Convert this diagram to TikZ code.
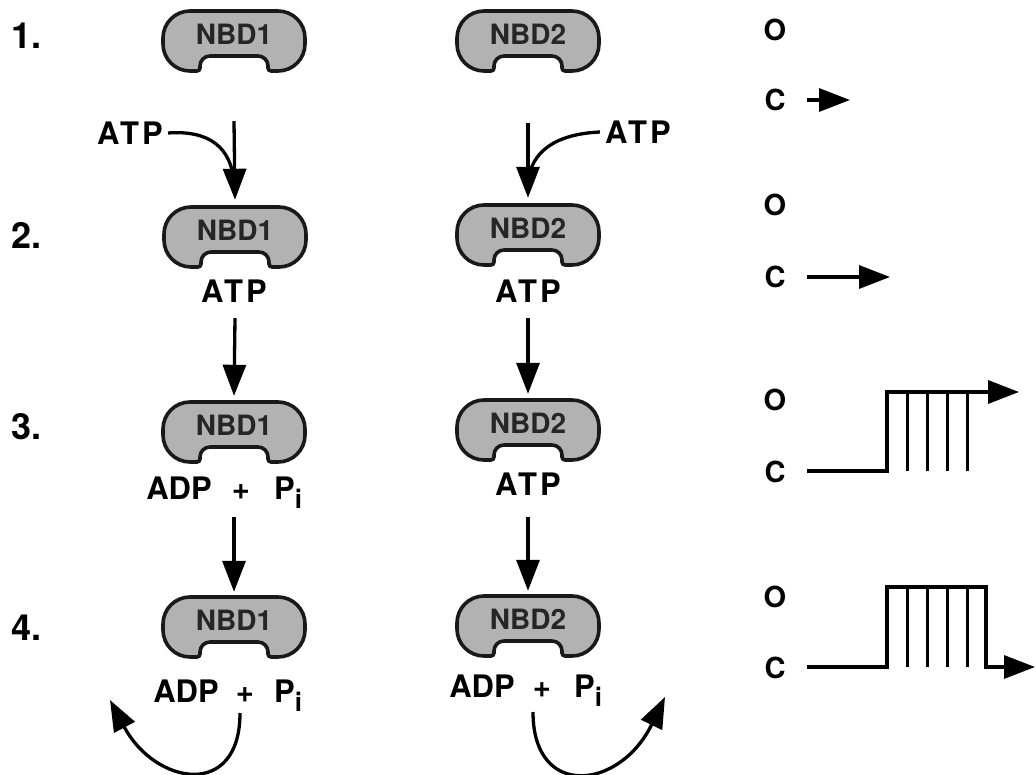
\documentclass[tikz,border=0pt]{standalone}
\usepackage{fontspec}
\setmainfont{TeX Gyre Heros}
\newfontfamily\spacedfont[LetterSpace=10]{TeX Gyre Heros}
\usetikzlibrary{arrows.meta,calc}
\newcommand\nbdshape[1]{%
  \draw[shp, shift={(#1.center)}] (0,-30) [rounded corners=27pt] -- (71,-30) -- (71,30)
    [rounded corners=3pt] -- (34,30) [rounded corners=10pt] -- (34,15) -- (-34,15)
    [rounded corners=3pt] -- (-34,30) [rounded corners=27pt] -- (-71,30) -- (-71,-30) -- cycle;}
\newcommand\nbdtxt[1]{\raisebox{7pt}[\height][\depth]{#1}}
\newcommand\Psub{P\raisebox{-9pt}{\fontsize{26}{26}\selectfont i}}
\begin{document}
\begin{tikzpicture}[x=1pt,y=-1pt,
  nbd/.style={rectangle, minimum width=142pt, minimum height=60pt, inner sep=0pt,
    font=\fontsize{28}{28}\selectfont\bfseries, text=black!85},
  lbl/.style={font=\fontsize{31}{31}\selectfont\bfseries, inner sep=0pt},
  atp/.style={font=\fontsize{31}{31}\selectfont\spacedfont\bfseries, inner sep=0pt},
  num/.style={font=\fontsize{36}{36}\selectfont\bfseries, inner sep=0pt, anchor=west},
  st/.style={font=\fontsize{29}{29}\selectfont\bfseries, inner sep=0pt},
  shp/.style={line width=3.6pt, fill=black!30, draw=black!90},
  arr/.style={line width=3.3pt, line join=miter, -{Triangle[length=31pt,width=23pt]}},
  ln/.style={line width=3.3pt},
  tick/.style={line width=3pt}
]
\useasboundingbox (0,0) rectangle (1036,775);

% NBD nodes
\node[nbd] (a1) at (234,41)  {\nbdtxt{NBD1}};
\node[nbd] (b1) at (528,41)  {\nbdtxt{NBD2}};
\node[nbd] (a2) at (235,237) {\nbdtxt{NBD1}};
\node[nbd] (b2) at (528,235) {\nbdtxt{NBD2}};
\node[nbd] (a3) at (234,432) {\nbdtxt{NBD1}};
\node[nbd] (b3) at (528,430) {\nbdtxt{NBD2}};
\node[nbd] (a4) at (234,627) {\nbdtxt{NBD1}};
\node[nbd] (b4) at (528,626) {\nbdtxt{NBD2}};
\foreach \n in {a1,b1,a2,b2,a3,b3,a4,b4}{\nbdshape{\n}}
\node[nbd] at (a1) {\nbdtxt{NBD1}};
\node[nbd] at (b1) {\nbdtxt{NBD2}};
\node[nbd] at (a2) {\nbdtxt{NBD1}};
\node[nbd] at (b2) {\nbdtxt{NBD2}};
\node[nbd] at (a3) {\nbdtxt{NBD1}};
\node[nbd] at (b3) {\nbdtxt{NBD2}};
\node[nbd] at (a4) {\nbdtxt{NBD1}};
\node[nbd] at (b4) {\nbdtxt{NBD2}};

% row numbers
\node[num] (n1) at (11,36)  {1.};
\node[num] (n2) at (11,235) {2.};
\node[num] (n3) at (11,427) {3.};
\node[num] (n4) at (11,628) {4.};

% ATP labels
\node[atp] (atpL) at (130,133) {ATP};
\node[atp] (atpR) at (638,132) {ATP};
\node[atp, anchor=base] (t2a) at (234,303) {ATP};
\node[atp, anchor=base] (t2b) at (528,303) {ATP};
\node[atp, anchor=base] (t3b) at (528,495) {ATP};

% ADP + Pi labels
\node[lbl, anchor=base] (adp3) at (179,499) {ADP};
\node[lbl, anchor=base] (pl3)  at (241,499) {+};
\node[lbl, anchor=base west] (pi3) at (274,499) {\Psub};
\node[lbl, anchor=base] (adp4a) at (186,702) {ADP};
\node[lbl, anchor=base] (pl4a)  at (245,702) {+};
\node[lbl, anchor=base west] (pi4a) at (274,702) {\Psub};
\node[lbl, anchor=base] (adp4b) at (482,697) {ADP};
\node[lbl, anchor=base] (pl4b)  at (542,697) {+};
\node[lbl, anchor=base west] (pi4b) at (574,697) {\Psub};

% ATP binding curves
\draw[ln] ([xshift=5pt]atpL.east) .. controls (210,130) and (231,148) .. (234,182);
\draw[ln] ([xshift=-5pt]atpR.west) .. controls (555,134) and (531,152) .. (528,182);

% vertical arrows
\draw[arr] ([yshift=-50pt]a1.south) -- ([yshift=7pt]a2.north);
\draw[arr] ([yshift=-52pt]b1.south) -- ([yshift=7pt]b2.north);
\draw[arr] ([yshift=-51pt]a2.south) -- ([yshift=6pt]a3.north);
\draw[arr] ([yshift=-53pt]b2.south) -- ([yshift=6pt]b3.north);
\draw[arr] ([yshift=-55pt]a3.south) -- ([yshift=5pt]a4.north);
\draw[arr] ([yshift=-57pt]b3.south) -- ([yshift=5pt]b4.north);

% release arrows
\coordinate (rl0) at (240,713);
\coordinate (rl1) at (110,700);
\coordinate (rr0) at (533,712);
\coordinate (rr1) at (665,697);
\draw[arr] (rl0) .. controls (240,800) and (155,785) .. (rl1);
\draw[arr] (rr0) .. controls (533,800) and (620,790) .. (rr1);

% open/closed labels
\node[st] (o1) at (775,30)  {O};
\node[st] (c1) at (775,100) {C};
\node[st] (o2) at (775,205) {O};
\node[st] (c2) at (775,277) {C};
\node[st] (o3) at (775,400) {O};
\node[st] (c3) at (775,472) {C};
\node[st] (o4) at (775,597) {O};
\node[st] (c4) at (775,668) {C};

% traces
\draw[arr] (807,100) -- (850,100);
\draw[arr] (807,277) -- (890,277);
\foreach \x in {907,927,947,967}{\draw[tick] (\x,392) -- (\x,471);}
\draw[arr] (807,471) -- (887,471) -- (887,392) -- (1019,392);
\foreach \x in {907,927,947,967}{\draw[tick] (\x,587) -- (\x,667);}
\draw[arr] (807,667) -- (887,667) -- (887,587) -- (986,587) -- (986,667) -- (1035,667);
\end{tikzpicture}
\end{document}
